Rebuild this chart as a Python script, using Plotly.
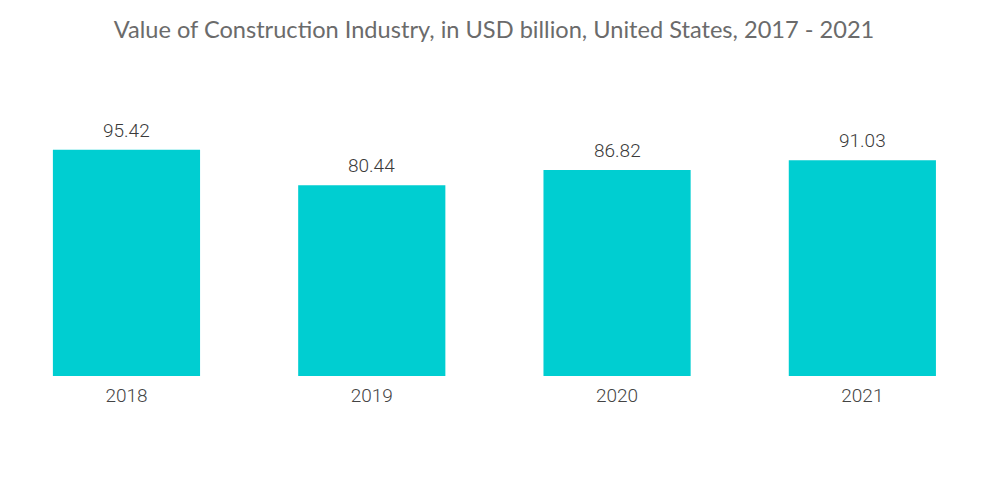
import plotly.graph_objects as go

years = ["2018", "2019", "2020", "2021"]
values = [95.42, 80.44, 86.82, 91.03]
labels = ["95.42", "80.44", "86.82", "91.03"]

fig = go.Figure(go.Bar(
    x=years, y=values,
    marker=dict(color="#00CED1", line=dict(width=0)),
    width=0.6,
))

for i, (v, lab) in enumerate(zip(values, labels)):
    fig.add_annotation(x=i, y=v, xref="x", yref="y", text=lab, showarrow=False,
                       xanchor="center", yanchor="bottom", yshift=6,
                       font=dict(family="Roboto", size=19, color="#3a3a3a", weight=300))

fig.update_layout(
    width=1000, height=504,
    margin=dict(l=0, r=23, t=119, b=136),
    paper_bgcolor="white", plot_bgcolor="white",
    title=dict(text="Value of Construction Industry, in USD billion, United States, 2017 - 2021",
               x=0.486, xanchor="center", y=0.956, yanchor="middle",
               font=dict(family="Lato", size=23.6, color="#6b6b6b")),
    xaxis=dict(type="category", showgrid=False, showline=False, zeroline=False,
               ticks="outside", ticklen=2, tickcolor="rgba(0,0,0,0)",
               range=[-0.483, 3.5],
               tickfont=dict(family="Roboto", size=19, color="#444444", weight=300)),
    yaxis=dict(range=[0, 105], visible=False),
    showlegend=False,
)

fig.write_html("out.html")
